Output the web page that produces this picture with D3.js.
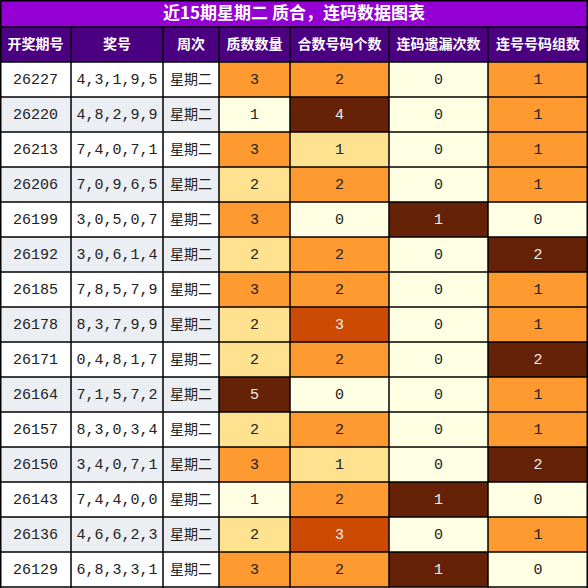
<!DOCTYPE html><html><head><meta charset="utf-8"><script src="https://cdn.jsdelivr.net/npm/d3@7"></script>
<style>body{margin:0;background:#fff}</style></head><body><script>
const title="近15期星期二  质合，连码数据图表";
const headers=["开奖期号","奖号","周次","质数数量","合数号码个数","连码遗漏次数","连号号码组数"];
const issues=["26227","26220","26213","26206","26199","26192","26185","26178","26171","26164","26157","26150","26143","26136","26129"];
const numbers=["4,3,1,9,5","4,8,2,9,9","7,4,0,7,1","7,0,9,6,5","3,0,5,0,7","3,0,6,1,4","7,8,5,7,9","8,3,7,9,9","0,4,8,1,7","7,1,5,7,2","8,3,0,3,4","3,4,0,7,1","7,4,4,0,0","4,6,6,2,3","6,8,3,3,1"];
const weekday="星期二";
const primeCount=[3,1,3,2,3,2,3,2,2,5,2,3,1,2,3];
const compositeCount=[2,4,1,2,0,2,2,3,2,0,2,1,2,3,2];
const missCount=[0,0,0,0,1,0,0,0,0,0,0,0,1,0,1];
const consecGroups=[1,1,1,1,0,2,1,1,2,1,1,2,0,1,0];
const colX=[0,71,163,219,290,389,488,588];
const IV="#FFFFE3",LG="#FFE28F",OR="#FE9A2F",RO="#CC4A02",BR="#662206";
const cmaps=[{1:IV,2:LG,3:OR,5:BR},{0:IV,1:LG,2:OR,3:RO,4:BR},{0:IV,1:BR},{0:IV,1:OR,2:BR}];
const W=588,titleH=27,headH=35,rowH=35;
const svg=d3.select("body").append("svg").attr("width",W).attr("height",588);
const y=d3.scaleBand().domain(d3.range(issues.length)).range([titleH+headH,titleH+headH+rowH*issues.length]);
svg.append("rect").attr("x",0).attr("y",0).attr("width",W).attr("height",titleH).attr("fill","#9400D3");
svg.append("text").attr("x",W/2).attr("y",titleH/2+1).attr("text-anchor","middle").attr("dominant-baseline","middle")
 .attr("fill","#fff").attr("font-weight","bold").attr("font-size",17).attr("font-family","Noto Sans CJK SC").text(title);
headers.forEach((h,i)=>{
 svg.append("rect").attr("x",colX[i]).attr("y",titleH).attr("width",colX[i+1]-colX[i]).attr("height",headH).attr("fill","#4B0082");
 svg.append("text").attr("x",(colX[i]+colX[i+1])/2).attr("y",titleH+headH/2+1).attr("text-anchor","middle").attr("dominant-baseline","middle")
  .attr("fill","#fff").attr("font-weight","bold").attr("font-size",14).attr("font-family","Noto Sans CJK SC").text(h);
});
const vals=[primeCount,compositeCount,missCount,consecGroups];
issues.forEach((iss,r)=>{
 const cells=[iss,numbers[r],weekday,...vals.map(v=>v[r])];
 cells.forEach((c,i)=>{
  let fill=(r%2? "#EBEEF2":"#FFFFFF"),tc="#222";
  if(i>=3){fill=cmaps[i-3][c];if(fill===BR||fill===RO)tc="#eee";}
  svg.append("rect").attr("x",colX[i]).attr("y",y(r)).attr("width",colX[i+1]-colX[i]).attr("height",rowH).attr("fill",fill);
  svg.append("text").attr("x",(colX[i]+colX[i+1])/2).attr("y",y(r)+rowH/2+1).attr("text-anchor","middle").attr("dominant-baseline","middle")
   .attr("fill",tc).attr("font-size",i===2?14:15).attr("font-family",i===2?"Noto Sans CJK SC":"Liberation Mono").text(c);
 });
});
const g=svg.append("g").attr("stroke","#000").attr("stroke-width",1.5);
colX.forEach(x=>g.append("line").attr("x1",Math.min(Math.max(x,0.75),W-0.75)).attr("x2",Math.min(Math.max(x,0.75),W-0.75)).attr("y1",(x===0||x===W)?0:titleH).attr("y2",588));
[0,titleH,titleH+headH,...d3.range(1,issues.length+1).map(r=>titleH+headH+r*rowH)].forEach(yy=>{
 const v=Math.min(Math.max(yy,0.75),587.25);g.append("line").attr("x1",0).attr("x2",W).attr("y1",v).attr("y2",v);});
</script></body></html>
